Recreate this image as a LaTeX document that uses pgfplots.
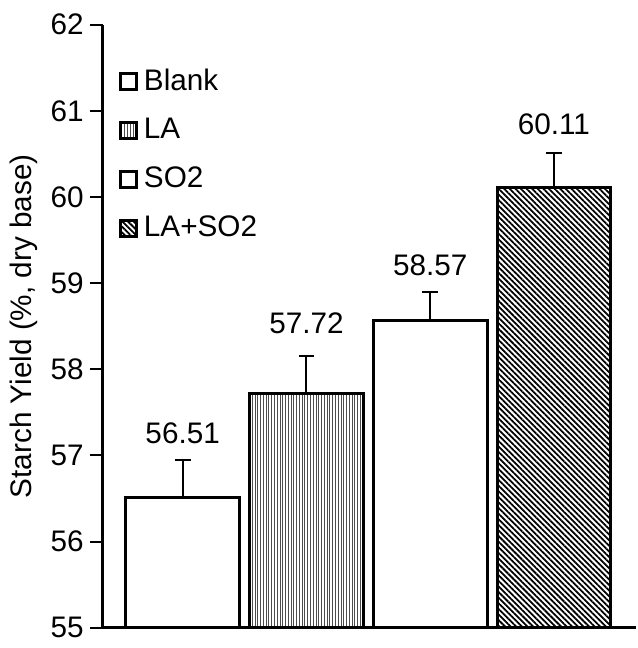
\documentclass[border=0pt]{standalone}
\usepackage{fontspec}
\setmainfont{Liberation Sans}
\usepackage{pgfplots}
\pgfplotsset{compat=1.18}
\usetikzlibrary{patterns.meta}
\pgfplotsset{
  myerr/.style={error bars/.cd, y dir=plus, y explicit,
    error bar style={line width=1pt, black, solid},
    error mark=-,
    error mark options={rotate=90, line width=1pt, mark size=4pt, black, solid}},
}
\begin{document}
\fontsize{15}{18}\selectfont
\begin{tikzpicture}
\begin{axis}[
  scale only axis, width=269pt, height=304.5pt,
  xmin=-0.644, xmax=3.66, ymin=55, ymax=62,
  axis x line*=bottom, axis y line*=left,
  axis line style={line width=1.5pt, -},
  xtick=\empty,
  ytick={55,56,...,62},
  tick align=outside, major tick length=6.5pt,
  tick style={line width=1pt, black},
  /pgf/number format/assume math mode=true,
  ticklabel style={font=\fontsize{15}{18}\selectfont},
  yticklabel style={inner xsep=3pt},
  ylabel={Starch Yield (\%, dry base)},
  ylabel style={font=\fontsize{15}{18}\selectfont, at={(axis description cs:-0.1487,0.5)}, anchor=center},
  ybar, bar width=57.5pt, bar shift=0pt,
  legend image code/.code={\draw[#1, line width=1.5pt] (0pt,-4pt) rectangle (8pt,4pt);},
  legend style={draw=none, fill=none, at={(axis description cs:0,1)}, anchor=north west,
     xshift=5pt, yshift=-18pt, font=\fontsize{15}{18}\selectfont, row sep=8pt,
     nodes={inner xsep=3pt}},
  legend cell align=left,
  clip=false,
]
\addplot[draw=black, line width=1.5pt, fill=white, myerr]
  coordinates {(0,56.51) +- (0,0.44)};
\addlegendentry{Blank}
\addplot[draw=black, line width=1.5pt, pattern={Lines[angle=90, distance=1.4pt, line width=0.5pt]}, pattern color=black!70, myerr]
  coordinates {(1,57.72) +- (0,0.44)};
\addlegendentry{LA}
\addplot[draw=black, line width=1.5pt, fill=white, myerr]
  coordinates {(2,58.57) +- (0,0.33)};
\addlegendentry{SO2}
\addplot[draw=black, line width=1.5pt, pattern={Lines[angle=-45, distance=2pt, line width=0.9pt]}, pattern color=black, myerr]
  coordinates {(3,60.11) +- (0,0.40)};
\addlegendentry{LA+SO2}
\addplot[forget plot, draw=none, fill=none, nodes near coords, point meta=explicit symbolic,
  nodes near coords style={anchor=center, inner sep=0pt, font=\fontsize{15}{18}\selectfont}]
  coordinates {(0,57.26)[56.51] (1,58.53)[57.72] (2,59.21)[58.57] (3,60.84)[60.11]};
\end{axis}
\path (current axis.south west) ++(-49pt,-7pt) rectangle ++(318pt,324pt);
\end{tikzpicture}
\end{document}
